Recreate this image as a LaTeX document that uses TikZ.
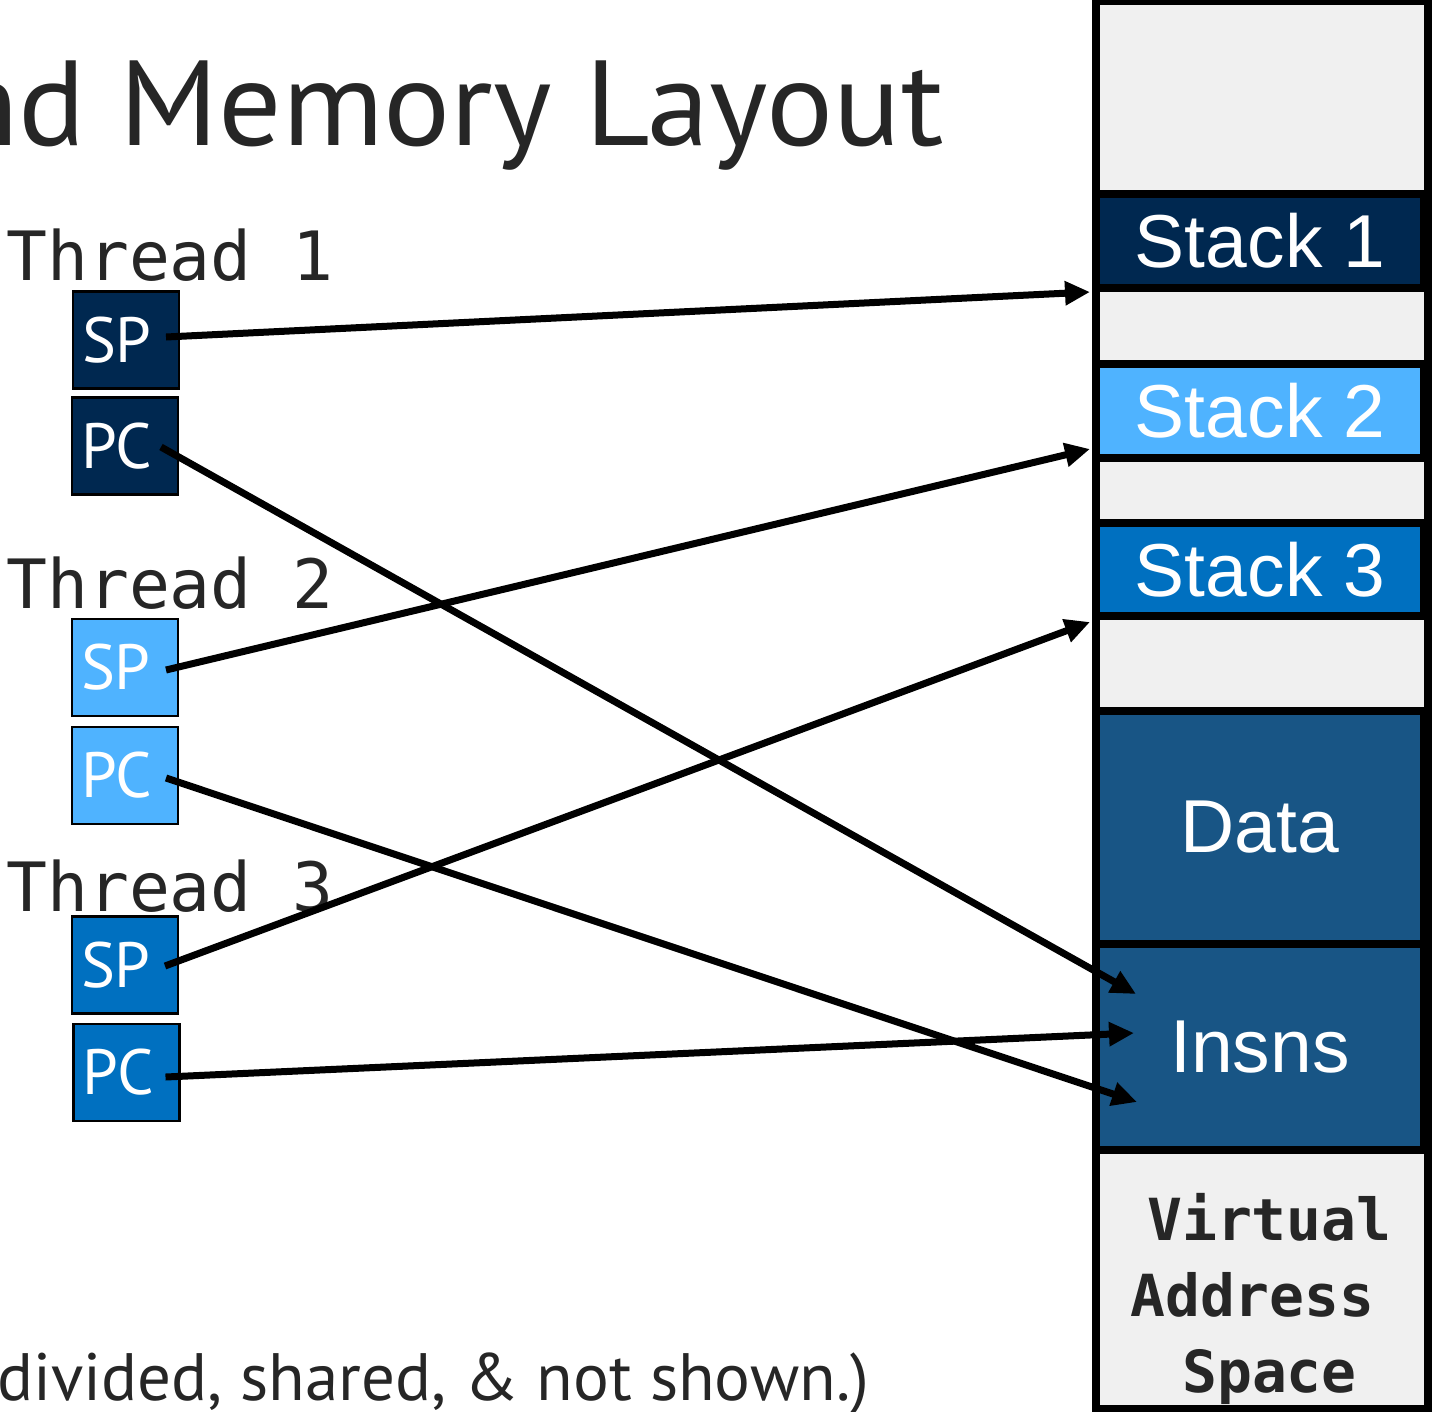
\documentclass[tikz,border=0pt]{standalone}
\usepackage{fontspec}
\setmainfont{PT Sans}
\newfontfamily\codefont{DejaVu Sans Mono}
\newfontfamily\labelfont{Liberation Sans}
\usetikzlibrary{arrows.meta}

\definecolor{navy}{HTML}{002850}
\definecolor{sky}{HTML}{4FB3FF}
\definecolor{azure}{HTML}{0070C0}
\definecolor{segblue}{HTML}{185585}
\definecolor{memgray}{HTML}{F0F0F0}
\definecolor{ink}{HTML}{262626}

\begin{document}
\begin{tikzpicture}[x=1pt,y=-1pt,
  seg/.style={draw=black, line width=8pt, inner sep=0pt, outer sep=0pt,
    text=white, font=\fontsize{75}{90}\labelfont},
  freeseg/.style={seg, fill=memgray, minimum width=332pt},
  usedseg/.style={seg, minimum width=328pt},
  reg/.style={draw=black, line width=2.5pt, text=white, outer sep=0pt,
    minimum height=97pt, text width=88pt, inner xsep=9pt, inner ysep=0pt,
    align=left, font=\fontsize{64}{70}\selectfont},
  thr/.style={anchor=base west, inner sep=0pt, text=ink,
    font=\fontsize{68}{80}\codefont},
  vas/.style={anchor=base west, inner sep=0pt, text=ink,
    font=\fontsize{58}{76}\codefont\bfseries},
  prose/.style={inner sep=0pt, text=ink},
  ptr/.style={line width=7pt, -{Triangle[length=25pt,width=23pt]}},
]
\useasboundingbox (0,0) rectangle (1432,1411);
\clip (0,0) rectangle (1432,1411);

% title and footnote
\node[prose, anchor=base east, font=\fontsize{121}{140}\selectfont] (title)
  at (944,145) {\scalebox{1.035}[1]{nd Memory Layout}};
\node[prose, anchor=base west, font=\fontsize{67}{80}\selectfont] (note)
  at (-3,1400) {divided, shared, \& not shown.)};

% address space column
\node[freeseg, minimum height=193pt] (gap0) at (1262,97.5) {};
\node[usedseg, fill=navy, minimum height=94pt] (s1) at (1260,241) {Stack 1};
\node[freeseg, minimum height=76pt] (gap1) at (1262,326) {};
\node[usedseg, fill=sky, minimum height=94pt] (s2) at (1260,411) {Stack 2};
\node[freeseg, minimum height=65pt] (gap2) at (1262,490.5) {};
\node[usedseg, fill=azure, minimum height=93pt] (s3) at (1260,569.5) {Stack 3};
\node[freeseg, minimum height=95pt] (gap3) at (1262,663.5) {};
\node[usedseg, fill=segblue, minimum height=233pt] (data) at (1260,827.5) {Data};
\node[usedseg, fill=segblue, minimum height=206pt] (ins) at (1260,1047) {Insns};
\node[freeseg, minimum height=259pt] (vasbox) at (1262,1279.5) {};
\draw[line width=8pt] (1096,1) rectangle (1428,1409);

\node[vas] (vas1) at (1147,1240) {Virtual};
\node[vas] (vas2) at (1130,1316) {Address};
\node[vas] (vas3) at (1182,1392) {Space};

% threads and their registers
\node[thr] (th1) at (6,280) {Thread 1};
\node[thr] (th2) at (6,608) {Thread 2};
\node[thr] (th3) at (6,911) {Thread 3};

\node[reg, fill=navy]  (sp1) at (126,340)    {SP};
\node[reg, fill=navy]  (pc1) at (125,446)    {PC};
\node[reg, fill=sky]   (sp2) at (125,667.5)  {SP};
\node[reg, fill=sky]   (pc2) at (125,775.5)  {PC};
\node[reg, fill=azure] (sp3) at (125,965)    {SP};
\node[reg, fill=azure] (pc3) at (126.5,1072.5) {PC};

% where the pointers land
\coordinate (t1) at ([shift={(-6,4)}]s1.south west);
\coordinate (t2) at ([shift={(-6,-9)}]s2.south west);
\coordinate (t3) at ([shift={(-6,6)}]s3.south west);
\coordinate (i1) at ([shift={(40,-53)}]ins.west);
\coordinate (i2) at ([shift={(38,-14)}]ins.west);
\coordinate (i3) at ([shift={(41,55)}]ins.west);

\draw[ptr] ([shift={(-13,-3)}]sp1.east) -- (t1);
\draw[ptr] ([shift={(-17,1)}]pc1.east) -- (i1);
\draw[ptr] ([shift={(-12,2.5)}]sp2.east) -- (t2);
\draw[ptr] ([shift={(-12,2.5)}]pc2.east) -- (i3);
\draw[ptr] ([shift={(-13,1)}]sp3.east) -- (t3);
\draw[ptr] ([shift={(-14,4.5)}]pc3.east) -- (i2);
\end{tikzpicture}
\end{document}
